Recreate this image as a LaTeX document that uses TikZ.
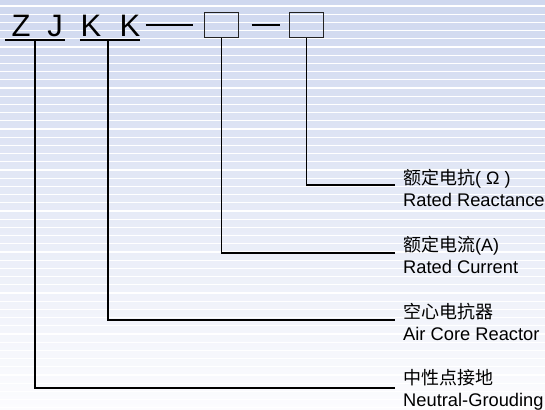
\documentclass[tikz,border=0pt]{standalone}
\usepackage{fontspec}
\setmainfont{Liberation Sans}
\newfontfamily\cjk{Noto Sans CJK SC}
\usetikzlibrary{calc}
\definecolor{bgtop}{RGB}{207,216,239}
\definecolor{bgmid}{RGB}{228,233,246}
\definecolor{bgbot}{RGB}{252,252,254}
\definecolor{stroke}{RGB}{35,35,35}

\begin{document}
\begin{tikzpicture}[x=1pt, y=-1pt,
    letter/.style={font=\fontsize{31}{31}\selectfont, inner sep=0, anchor=base},
    codebox/.style={draw=stroke, line width=1.6pt, minimum width=34pt, minimum height=25pt, inner sep=0},
    cn/.style={font=\fontsize{18}{18}\selectfont\cjk, inner sep=0, anchor=base west},
    en/.style={font=\fontsize{18.3}{18.3}\selectfont, inner sep=0, anchor=base west},
    ln/.style={line width=1.3pt, stroke}]
    % background with stripes
    \useasboundingbox (0,0) rectangle (545,409);
    \shade[top color=bgtop, middle color=bgmid, bottom color=bgbot] (0,0) rectangle (545,409);
    \foreach \i in {0,...,49}
        \draw[white, line width=1.2pt] (0,6+8.2*\i) -- (545,6+8.2*\i);

    % model code
    \node[letter] (z) at (21,37) {Z};
    \node[letter] (j) at (55,37) {J};
    \node[letter] (k1) at (91,37) {K};
    \node[letter] (k2) at (130,37) {K};
    \node[codebox] (b1) at (221.5,25) {};
    \node[codebox] (b2) at (306.5,25) {};
    \draw[ln] (5,40) -- (65,40);
    \draw[ln] (80,40) -- (140,40);
    \draw[ln] ($(b1.west)+(-58,0)$) -- ($(b1.west)+(-11,0)$);
    \draw[ln] ($(b2.west)+(-37,0)$) -- ($(b2.west)+(-9,0)$);

    % label ends
    \coordinate (u1) at (35,40);
    \coordinate (u2) at (108,40);
    \coordinate (t1) at (395,185);
    \coordinate (t2) at (395,253);
    \coordinate (t3) at (395,320);
    \coordinate (t4) at (395,388);

    % labels
    \node[cn] (c1) at (403,184) {额定电抗\fontspec{Liberation Sans}(\;Ω\;)};
    \node[en] (e1) at (403,206) {Rated Reactance};
    \node[cn] (c2) at (403,251) {额定电流\fontspec{Liberation Sans}(A)};
    \node[en] (e2) at (403,273) {Rated Current};
    \node[cn] (c3) at (403,318) {空心电抗器};
    \node[en] (e3) at (403,340) {Air Core Reactor};
    \node[cn] (c4) at (403,384) {中性点接地};
    \node[en] (e4) at (403,406) {Neutral-Grouding};

    \draw[ln] (b2.south) |- (t1);
    \draw[ln] (b1.south) |- (t2);
    \draw[ln] (u2) |- (t3);
    \draw[ln] (u1) |- (t4);
\end{tikzpicture}
\end{document}
